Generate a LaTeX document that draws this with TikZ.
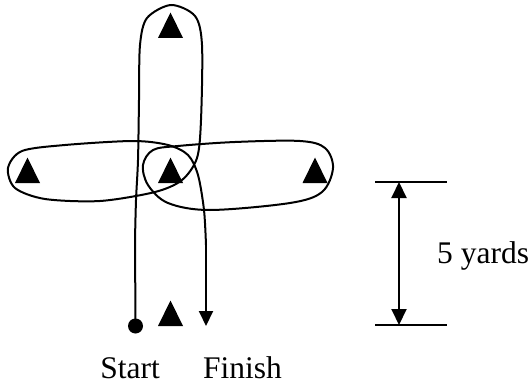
\documentclass[tikz,border=0pt]{standalone}
\usepackage{fontspec}
\setmainfont{Liberation Serif}
\usetikzlibrary{arrows.meta}
\begin{document}
\begin{tikzpicture}[x=1pt,y=-1pt,
  route/.style={line width=2pt, line join=round, line cap=round},
  lbl/.style={font=\fontsize{31.5}{36}\selectfont, inner sep=0pt, anchor=base},
  dim/.style={line width=2pt},
  tip/.style={-{Triangle[length=15pt,width=14pt]}},
  dimtips/.style={{Triangle[length=16pt,width=15pt]}-{Triangle[length=16pt,width=15pt]}},
  cone/.pic={\fill (-12.5,0) -- (12.5,0) -- (0,-25.5) -- cycle;}]
\useasboundingbox (0,0) rectangle (532,385);

% cones
\pic (ctop) at (170.5,38) {cone};
\pic (cleft) at (27.5,183) {cone};
\pic (cmid) at (170.5,183) {cone};
\pic (cright) at (315,183) {cone};
\pic (cbot) at (170.5,326) {cone};

% start and finish
\node[circle, fill, inner sep=0pt, minimum size=15pt] (start) at (135.5,326) {};
\coordinate (finish) at (206,326);
\coordinate (bend) at (206,245);

% route: vertical loop, left loop, down to finish
\draw[route] (start.center) -- (135,240) plot[smooth, tension=0.5] coordinates {
  (135,240) (136,200) (138,160) (139,100) (140,45) (147,18) (171,5) (195,16)
  (202,45) (201,120) (197,158) (182,180) (155,192) (100,201) (45,199) (15,188)
  (8,168) (22,151) (65,145) (133,141) (168,145) (188,155) (198,175) (204,210) (bend)};
\draw[route, tip] (bend) -- (finish);

% right loop
\draw[route] plot[smooth cycle, tension=0.55] coordinates {
  (153,150) (178,146) (235,142) (300,141) (325,148) (333,168) (322,192)
  (290,203) (210,210) (168,203) (148,185) (143,165)};

% dimension
\coordinate (dtl) at (375,182);
\coordinate (dtr) at (447,182);
\coordinate (dbl) at (375,325);
\coordinate (dbr) at (447,325);
\coordinate (dt) at (399,182);
\coordinate (db) at (399,325);
\draw[dim] (dtl) -- (dtr);
\draw[dim] (dbl) -- (dbr);
\draw[dim, dimtips] (dt) -- (db);

% labels
\node[lbl] (s) at (130,378) {Start};
\node[lbl] (f) at (242.5,378) {Finish};
\node[lbl, anchor=base west] (y) at (437,263) {5 yards};
\end{tikzpicture}
\end{document}
